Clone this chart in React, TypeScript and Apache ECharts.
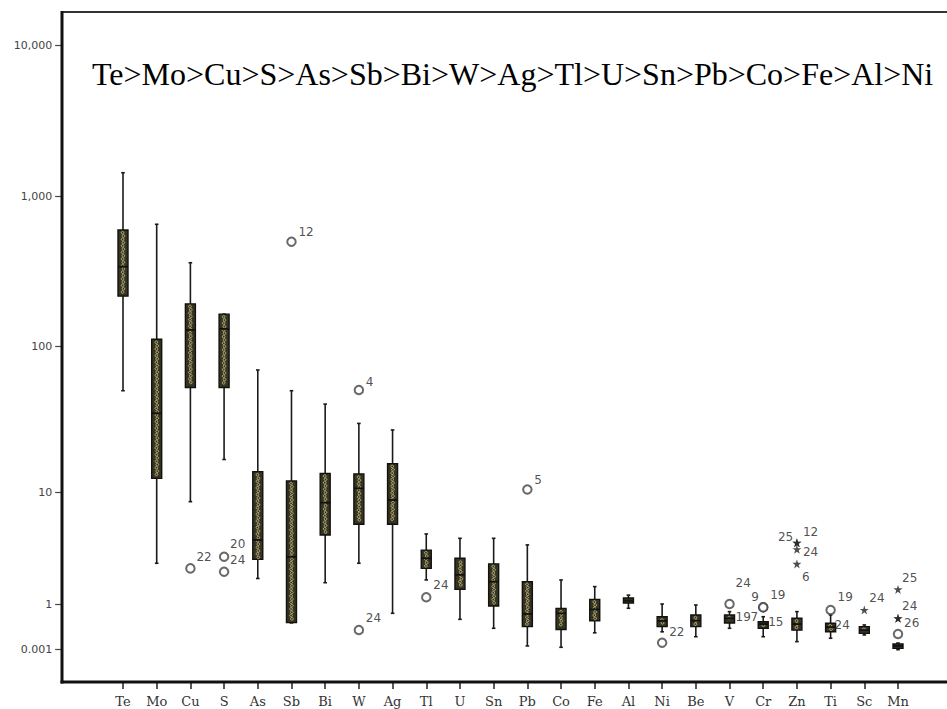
import React, { useEffect, useRef } from 'react';
import * as echarts from 'echarts';

// ---- data ----
const categories = ['Te','Mo','Cu','S','As','Sb','Bi','W','Ag','Tl','U','Sn','Pb','Co','Fe','Al','Ni','Be','V','Cr','Zn','Ti','Sc','Mn'];
const whiskerLow  = [49.4, 2.31, 8.2, 16.7, 1.69, 0.055, 1.55, 2.31, 0.24, 1.64, 0.095, 0.024, 0.0016, 0.0013, 0.012, 0.52, 0.014, 0.0066, 0.024, 0.0066, 0.0031, 0.0052, 0.0086, 0.0009];
const quartile1   = [215, 12.4, 52, 52, 2.51, 0.057, 4.13, 5.15, 5.15, 2.08, 1.35, 0.735, 0.031, 0.02, 0.077, 1.02, 0.031, 0.031, 0.054, 0.024, 0.018, 0.014, 0.011, 0.0011];
const medians     = [338, 34.6, 128, 130, 3.73, 2.64, 8.03, 10.6, 8.48, 2.56, 1.82, 1.58, 0.216, 0.24, 0.44, 1.07, 0.074, 0.077, 0.111, 0.046, 0.046, 0.029, 0.018, 0.0016];
const quartile3   = [593, 111, 191, 163, 13.8, 11.9, 13.4, 13.3, 15.6, 3.03, 2.56, 2.28, 1.58, 0.51, 1.1, 1.13, 0.142, 0.185, 0.185, 0.066, 0.111, 0.052, 0.031, 0.0022];
const whiskerHigh = [1426, 648, 359, 163, 68.5, 49.4, 40, 29.5, 26.6, 4.22, 3.86, 3.86, 3.37, 1.64, 1.43, 1.2, 1.0, 0.86, 0.31, 0.142, 0.31, 0.185, 0.04, 0.0025];

const outlierCategory = ['Cu','S','S','Sb','W','W','Tl','Pb','Ni','V','V','V','Cr','Cr','Cr','Zn','Zn','Zn','Zn','Ti','Ti','Sc','Mn','Mn','Mn','Mn'];
const outlierValue    = [2.08, 2.64, 1.94, 495, 50, 0.0185, 1.15, 10.4, 0.0026, 1.0, 0.026, 0.026, 0.6, 0.6, 0.0117, 3.52, 3.52, 3.08, 2.28, 0.4, 0.0074, 0.4, 1.35, 0.111, 0.111, 0.01];
const outlierCase     = ['22','20','24','12','4','24','24','5','22','24','19','7','9','19','15','25','12','24','6','19','24','24','25','24','26',''];
const outlierMarker   = ['circle','circle','circle','circle','circle','circle','circle','circle','circle','circle','none','none','circle','circle','none','star','star','star','star','circle','none','star','star','star','star','circle'];

const tickValues = [0.001, 1, 10, 100, 1000, 10000];
const tickLabels = ['0.001', '1', '10', '100', '1,000', '10,000'];

const titleText = 'Te>Mo>Cu>S>As>Sb>Bi>W>Ag>Tl>U>Sn>Pb>Co>Fe>Al>Ni';

// ---- axis scale (log10 value -> axis units), as drawn in the original ----
const SCALE_LOG = [-3, 0, 1, 2, 3, 4];
const SCALE_POS = [33, 78, 190, 336, 486, 637];
function toAxis(v: number): number {
  const l = Math.log10(v);
  const n = SCALE_LOG.length;
  let i = 0;
  if (l >= SCALE_LOG[n - 1]) i = n - 2;
  else if (l > SCALE_LOG[0]) {
    for (let k = 0; k < n - 1; k++) if (l >= SCALE_LOG[k] && l <= SCALE_LOG[k + 1]) { i = k; break; }
  }
  const t = (l - SCALE_LOG[i]) / (SCALE_LOG[i + 1] - SCALE_LOG[i]);
  return SCALE_POS[i] + t * (SCALE_POS[i + 1] - SCALE_POS[i]);
}

// label placement for each outlier label (dx, dy from the marker centre)
const labelPlacement: number[][] = [
  [6,-11],[6,-13],[6,-12],[7,-10],[7,-8],[7,-12],[7,-12],[7,-10],[7,-11],[6,-21],
  [6,-11],[21,-11],[-12,-10],[7,-12],[5,-11],[-19,-6],[6,-11],[6,3],[5,13],[7,-13],
  [4,-11],[5,-12],[4,-11],[4,-12],[6,5],[0,0]
];

const STAR = 'path://M50,0 L61.8,35.1 L98.9,35.1 L69.1,56.7 L80.3,91.9 L50,70.2 L19.7,91.9 L30.9,56.7 L1.1,35.1 L38.2,35.1 Z';

export default function App() {
  const ref = useRef<HTMLDivElement>(null);
  useEffect(() => {
    if (!ref.current) return;
    const chart = echarts.init(ref.current, null, { renderer: 'svg' });

    const boxData = categories.map((_, i) => [
      i,
      toAxis(whiskerLow[i]), toAxis(quartile1[i]), toAxis(medians[i]), toAxis(quartile3[i]), toAxis(whiskerHigh[i]),
    ]);

    const tickPos = tickValues.map(toAxis);

    const outlierData = outlierValue.map((v, i) => {
      const kind = outlierMarker[i];
      const [dx, dy] = labelPlacement[i];
      return {
        value: [categories.indexOf(outlierCategory[i]), toAxis(v)],
        symbol: kind === 'star' ? STAR : 'emptyCircle',
        symbolSize: kind === 'none' ? 0 : (kind === 'star' ? 9 : 8.5),
        itemStyle: kind === 'star'
          ? { color: '#222', borderWidth: 0 }
          : { color: '#444', borderColor: '#444', borderWidth: 1.4 },
        label: {
          show: outlierCase[i] !== '',
          formatter: outlierCase[i],
          position: 'inside',
          align: 'left',
          verticalAlign: 'middle',
          offset: [dx, dy],
          fontSize: 12,
          fontFamily: 'DejaVu Sans',
          color: '#222',
        },
      };
    });

    const renderBox = (params: any, api: any) => {
      const c = api.value(0);
      const pMin = api.coord([c, api.value(1)]);
      const pQ1 = api.coord([c, api.value(2)]);
      const pMed = api.coord([c, api.value(3)]);
      const pQ3 = api.coord([c, api.value(4)]);
      const pMax = api.coord([c, api.value(5)]);
      const x = pMed[0];
      const hw = 5;
      const ink = '#1a1a1a';
      const children: any[] = [
        { type: 'line', shape: { x1: x, y1: pMax[1], x2: x, y2: pMin[1] }, style: { stroke: ink, lineWidth: 1.6 } },
        { type: 'line', shape: { x1: x - 1.8, y1: pMax[1], x2: x + 1.8, y2: pMax[1] }, style: { stroke: ink, lineWidth: 1.6 } },
        { type: 'line', shape: { x1: x - 1.8, y1: pMin[1], x2: x + 1.8, y2: pMin[1] }, style: { stroke: ink, lineWidth: 1.6 } },
        { type: 'rect', shape: { x: x - hw, y: pQ3[1], width: hw * 2, height: Math.max(pQ1[1] - pQ3[1], 2) },
          style: { fill: '#36341f', stroke: '#111', lineWidth: 1.4 } },
      ];
      const h = pQ1[1] - pQ3[1];
      if (h > 6) {
        let k = 0;
        for (let yy = pQ3[1] + 2.6; yy <= pQ1[1] - 2.2; yy += 3.3) {
          children.push({
            type: 'circle',
            shape: { cx: x + (k % 2 === 0 ? -0.4 : 0.4), cy: yy, r: 1.35 },
            style: { fill: 'none', stroke: '#cdc592', lineWidth: 0.8 },
          });
          k++;
        }
      }
      children.push({ type: 'line', shape: { x1: x - hw, y1: pMed[1], x2: x + hw, y2: pMed[1] }, style: { stroke: '#111', lineWidth: 1.8 } });
      return { type: 'group', children };
    };

    const option: any = {
      animation: false,
      backgroundColor: '#ffffff',
      title: {
        text: titleText,
        left: 87,
        top: 53,
        textStyle: { fontFamily: 'Liberation Serif', fontSize: 32, fontWeight: 'normal', color: '#000' },
      },
      grid: { left: 106.15, right: 32.15, top: 12, bottom: 27, containLabel: false },
      xAxis: {
        type: 'category',
        data: categories,
        boundaryGap: true,
        axisLine: { show: false },
        axisTick: { show: true, alignWithLabel: true, length: 7, lineStyle: { color: '#222', width: 1.5 } },
        axisLabel: { margin: 13, fontFamily: 'DejaVu Serif', fontSize: 13, color: '#333' },
        splitLine: { show: false },
      },
      yAxis: {
        type: 'value',
        min: 0,
        max: 670,
        offset: 44,
        axisLine: { show: false },
        splitLine: { show: false },
        axisTick: { show: true, customValues: tickPos, length: 7, lineStyle: { color: '#444', width: 1.2 } },
        axisLabel: {
          customValues: tickPos,
          margin: 10,
          fontFamily: 'DejaVu Sans',
          fontSize: 11,
          color: '#444',
          formatter: (val: number) => {
            const i = tickPos.findIndex((p) => Math.abs(p - val) < 1e-6);
            return i >= 0 ? tickLabels[i] : '';
          },
        },
      },
      graphic: [
        { type: 'line', shape: { x1: 62, y1: 12, x2: 947, y2: 12 }, style: { stroke: '#333', lineWidth: 2 }, z: 10 },
        { type: 'line', shape: { x1: 62, y1: 11, x2: 62, y2: 683.5 }, style: { stroke: '#111', lineWidth: 3 }, z: 10 },
        { type: 'line', shape: { x1: 60.5, y1: 682, x2: 947, y2: 682 }, style: { stroke: '#111', lineWidth: 3 }, z: 10 },
      ],
      series: [
        {
          type: 'custom',
          renderItem: renderBox,
          encode: { x: 0, y: [1, 2, 3, 4, 5] },
          data: boxData,
          z: 2,
        },
        {
          type: 'scatter',
          data: outlierData,
          z: 5,
        },
      ],
    };
    chart.setOption(option);
    return () => chart.dispose();
  }, []);
  return <div ref={ref} style={{ position: 'fixed', left: 0, top: 0, width: 947, height: 709, background: '#fff' }} />;
}
